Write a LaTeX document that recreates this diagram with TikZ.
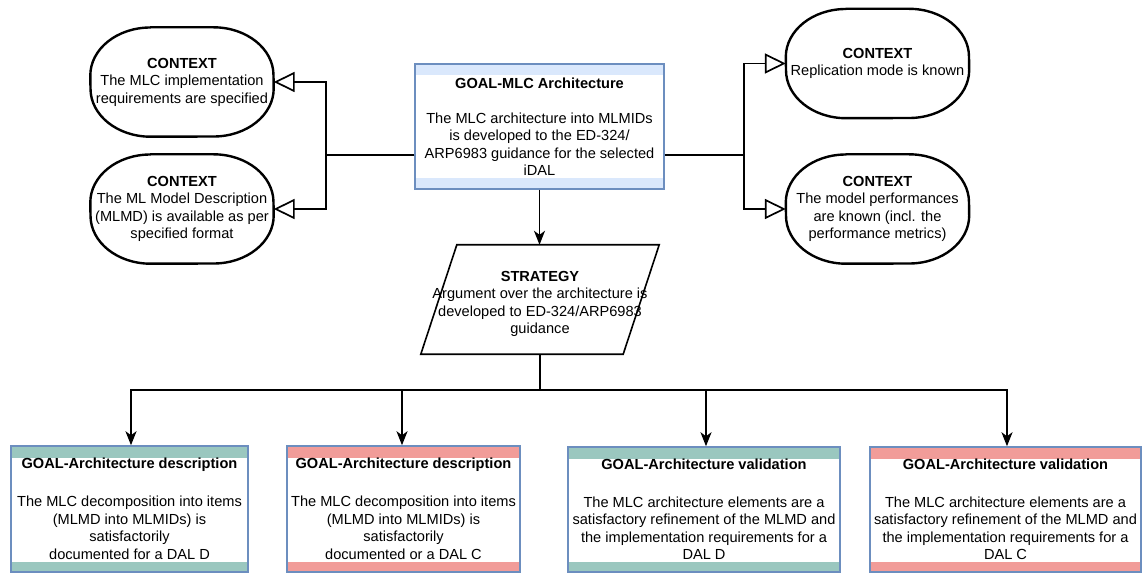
\documentclass[tikz,border=0pt]{standalone}
\usepackage{fontspec}
\setmainfont{Liberation Sans}
\usetikzlibrary{arrows.meta}

\definecolor{gsnblue}{HTML}{6C8EBF}
\definecolor{bandblue}{HTML}{DAE8FC}
\definecolor{bandteal}{HTML}{9AC7BF}
\definecolor{bandpink}{HTML}{F19C99}

\tikzset{
  txt/.style={align=center, font=\fontsize{14.6}{17.5}\selectfont, inner sep=0pt},
  goalbox/.style={txt, rectangle, draw=gsnblue, line width=1.5pt,
    path picture={
      \fill[#1] (path picture bounding box.north west) rectangle ([yshift=-11.5pt]path picture bounding box.north east);
      \fill[#1] (path picture bounding box.south west) rectangle ([yshift=10.5pt]path picture bounding box.south east);
    }},
  ctxnode/.style={txt, minimum width=183pt, minimum height=109pt},
  ctxline/.style={line width=2.4pt, line join=round},
  stratline/.style={line width=1.6pt, line join=miter},
  link/.style={line width=1.7pt},
  arr/.style={link, -{Stealth[length=14pt, width=11pt, inset=4pt]}},
  ctxarr/.style={link, -{Triangle[open, length=21pt, width=20pt, line width=1.7pt]}},
}

% rounded outline with elliptical corners around a context node
\newcommand{\ctxoutline}[1]{%
  \draw[ctxline] ([xshift=-31.5pt]#1.north) -- ([xshift=31.5pt]#1.north)
    arc[start angle=90, end angle=0, x radius=60pt, y radius=48pt]
    -- ([yshift=-6.5pt]#1.east)
    arc[start angle=0, end angle=-90, x radius=60pt, y radius=48pt]
    -- ([xshift=-31.5pt]#1.south)
    arc[start angle=270, end angle=180, x radius=60pt, y radius=48pt]
    -- ([yshift=6.5pt]#1.west)
    arc[start angle=180, end angle=90, x radius=60pt, y radius=48pt]
    -- cycle;}

\begin{document}
\begin{tikzpicture}[x=1pt, y=1pt]
  \fill[white] (0,0) rectangle (1144,574);
  \useasboundingbox (0,0) rectangle (1144,574);

  % top goal
  \node[goalbox=bandblue, minimum width=249pt, minimum height=125pt] (goal) at (539.5,447.5)
    {\textbf{GOAL-MLC Architecture}\\[17.5pt]The MLC architecture into MLMIDs\\is developed to the ED-324/\\ARP6983 guidance for the selected\\iDAL};
  \coordinate (gw) at ([yshift=-28.5pt]goal.west);
  \coordinate (ge) at ([yshift=-28.5pt]goal.east);

  % context nodes
  \node[ctxnode] (c1) at (182,492)
    {\textbf{CONTEXT}\\The MLC implementation\\requirements are specified};
  \node[ctxnode] (c2) at (182,365)
    {\textbf{CONTEXT}\\The ML Model Description\\(MLMD) is available as per\\specified format};
  \node[ctxnode] (c3) at (877.5,510.5)
    {\textbf{CONTEXT}\\Replication mode is known};
  \node[ctxnode] (c4) at (877.5,365)
    {\textbf{CONTEXT}\\The model performances\\are known (incl. the\\performance metrics)};
  \ctxoutline{c1}
  \ctxoutline{c2}
  \ctxoutline{c3}
  \ctxoutline{c4}

  % strategy
  \node[minimum width=202pt, minimum height=109pt, inner sep=0pt] (strat) at (540,274.5) {};
  \draw[stratline] ([xshift=18pt]strat.north west) -- ([xshift=18pt]strat.north east)
    -- ([xshift=-18pt]strat.south east) -- ([xshift=-18pt]strat.south west) -- cycle;
  \node[txt] (stext) at ([yshift=-4.5pt]strat.center)
    {\textbf{STRATEGY}\\Argument over the architecture is\\developed to ED-324/ARP6983\\guidance};

  % sub-goals
  \node[goalbox=bandteal, minimum width=237pt, minimum height=126pt] (b1) at (129.5,65)
    {\textbf{GOAL-Architecture description}\\[20.5pt]The MLC decomposition into items\\(MLMD into MLMIDs) is\\satisfactorily\\documented for a DAL D};
  \node[goalbox=bandpink, minimum width=233pt, minimum height=126pt] (b2) at (403.5,65)
    {\textbf{GOAL-Architecture description}\\[20.5pt]The MLC decomposition into items\\(MLMD into MLMIDs) is\\satisfactorily\\documented or a DAL C};
  \node[goalbox=bandteal, minimum width=272pt, minimum height=125pt] (b3) at (704,64.5)
    {\textbf{GOAL-Architecture validation}\\[20pt]The MLC architecture elements are a\\satisfactory refinement of the MLMD and\\the implementation requirements for a\\DAL D};
  \node[goalbox=bandpink, minimum width=271pt, minimum height=125pt] (b4) at (1005.5,64.5)
    {\textbf{GOAL-Architecture validation}\\[20pt]The MLC architecture elements are a\\satisfactory refinement of the MLMD and\\the implementation requirements for a\\DAL C};

  % connectors
  \draw[ctxarr] (gw) -- ++(-88,0) |- (c1.east);
  \draw[ctxarr] (gw) -- ++(-88,0) |- (c2.east);
  \draw[ctxarr] (ge) -- ++(79,0) |- (c3.west);
  \draw[ctxarr] (ge) -- ++(79,0) |- (c4.west);
  \draw[arr] (goal.south) -- (goal.south |- strat.north);
  \draw[arr] (strat.south) -- ++(0,-36) -| ([xshift=1.5pt]b1.north);
  \draw[arr] (strat.south) -- ++(0,-36) -| ([xshift=-1.5pt]b2.north);
  \draw[arr] (strat.south) -- ++(0,-36) -| ([xshift=2pt]b3.north);
  \draw[arr] (strat.south) -- ++(0,-36) -| ([xshift=1.5pt]b4.north);
\end{tikzpicture}
\end{document}
